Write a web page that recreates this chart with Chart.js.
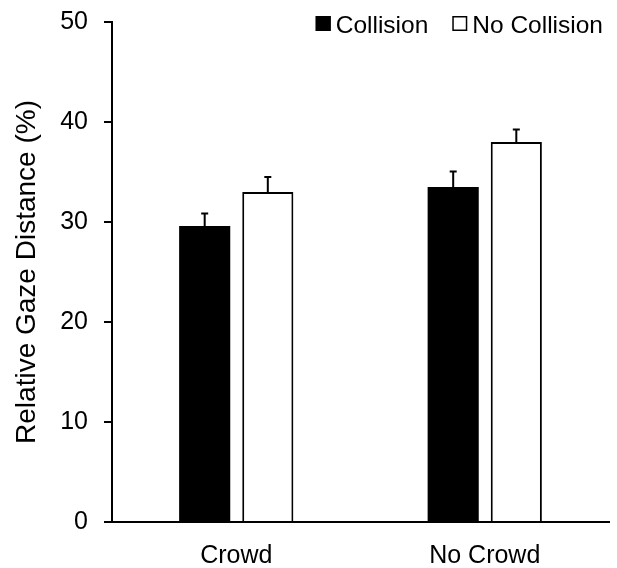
<!DOCTYPE html>
<html>
<head>
<meta charset="utf-8">
<script src="https://cdn.jsdelivr.net/npm/chart.js@4.4.1/dist/chart.umd.min.js"></script>
<style>
  html, body { margin: 0; padding: 0; background: #fff; }
  #wrap { width: 617px; height: 568px; }
</style>
</head>
<body>
<div id="wrap"><canvas id="gazeChart" width="617" height="568"></canvas></div>
<script>
// Data
const categories = ['Crowd', 'No Crowd'];
const seriesNames = ['Collision', 'No Collision'];
const collisionValues = [29.6, 33.5];
const noCollisionValues = [33.0, 38.0];
const collisionErr = [1.25, 1.55];
const noCollisionErr = [1.5, 1.25];
const yTicks = [0, 10, 20, 30, 40, 50];

const FONT = "'Liberation Sans', Arial, sans-serif";

// one-sided (upward) error bars with a small cap
const errorBarPlugin = {
    id: 'errorBars',
    afterDatasetsDraw(chart) {
        const ctx = chart.ctx;
        const yScale = chart.scales.y;
        ctx.save();
        ctx.strokeStyle = '#000';
        ctx.lineWidth = 2;
        chart.data.datasets.forEach((ds, i) => {
            const meta = chart.getDatasetMeta(i);
            meta.data.forEach((bar, j) => {
                const top = yScale.getPixelForValue(ds.data[j]);
                const end = yScale.getPixelForValue(ds.data[j] + ds.errors[j]);
                ctx.beginPath();
                ctx.moveTo(bar.x, top);
                ctx.lineTo(bar.x, end);
                ctx.moveTo(bar.x - 3.5, end);
                ctx.lineTo(bar.x + 3.5, end);
                ctx.stroke();
            });
        });
        ctx.restore();
    }
};

// legend drawn in the top right corner, over the plot
const legendPlugin = {
    id: 'cornerLegend',
    afterDraw(chart) {
        const ctx = chart.ctx;
        const box = 15, gapText = 5, gapItem = 24;
        ctx.save();
        ctx.font = '24.5px ' + FONT;
        ctx.textBaseline = 'middle';
        const items = chart.data.datasets.map(ds => ({
            label: ds.label, fill: ds.backgroundColor, w: ctx.measureText(ds.label).width
        }));
        let total = 0;
        items.forEach((it, k) => { total += box + gapText + it.w + (k ? gapItem : 0); });
        let x = 603 - total;
        const y = 24;
        items.forEach((it, k) => {
            if (k) x += gapItem;
            ctx.fillStyle = it.fill;
            ctx.fillRect(x, y - 8, box, box);
            ctx.strokeStyle = '#000';
            ctx.lineWidth = 1.5;
            ctx.strokeRect(x + 0.75, y - 7.25, box - 1.5, box - 1.5);
            x += box + gapText;
            ctx.fillStyle = '#000';
            ctx.fillText(it.label, x, y + 2);
            x += it.w;
        });
        ctx.restore();
    }
};

const ctx = document.getElementById('gazeChart').getContext('2d');
new Chart(ctx, {
    type: 'bar',
    data: {
        labels: categories,
        datasets: [
            {
                label: seriesNames[0],
                data: collisionValues,
                errors: collisionErr,
                backgroundColor: '#000000',
                borderColor: '#000000',
                borderWidth: 0
            },
            {
                label: seriesNames[1],
                data: noCollisionValues,
                errors: noCollisionErr,
                backgroundColor: '#ffffff',
                borderColor: '#000000',
                borderWidth: 2,
                borderSkipped: 'bottom'
            }
        ]
    },
    options: {
        responsive: false,
        animation: false,
        devicePixelRatio: 1,
        categoryPercentage: 0.508,
        barPercentage: 0.81,
        layout: { padding: { top: 22, right: 8, left: 0, bottom: 0 } },
        plugins: {
            legend: { display: false },
            tooltip: { enabled: false }
        },
        scales: {
            x: {
                grid: { display: true, drawOnChartArea: false, drawTicks: false },
                border: { display: true, color: '#000', width: 2 },
                ticks: {
                    color: '#000',
                    padding: 19,
                    font: { family: FONT, size: 25 }
                },
                afterFit(scale) { scale.height = 46; }
            },
            y: {
                min: 0,
                max: 50,
                afterBuildTicks(scale) { scale.ticks = yTicks.map(v => ({ value: v })); },
                grid: { display: true, drawOnChartArea: false, drawTicks: true, tickLength: 8, color: '#000', lineWidth: 2 },
                border: { display: true, color: '#000', width: 2 },
                ticks: {
                    color: '#000',
                    padding: 16,
                    font: { family: FONT, size: 25 }
                },
                title: {
                    display: true,
                    text: 'Relative Gaze Distance (%)',
                    color: '#000',
                    padding: { top: 10, bottom: 0 },
                    font: { family: FONT, size: 28 }
                },
                afterFit(scale) {
                    scale.width = 112;
                    // tick padding otherwise pushes the plot top down
                    scale.paddingTop = 0;
                    scale.paddingBottom = 0;
                }
            }
        }
    },
    plugins: [errorBarPlugin, legendPlugin]
});
</script>
</body>
</html>
